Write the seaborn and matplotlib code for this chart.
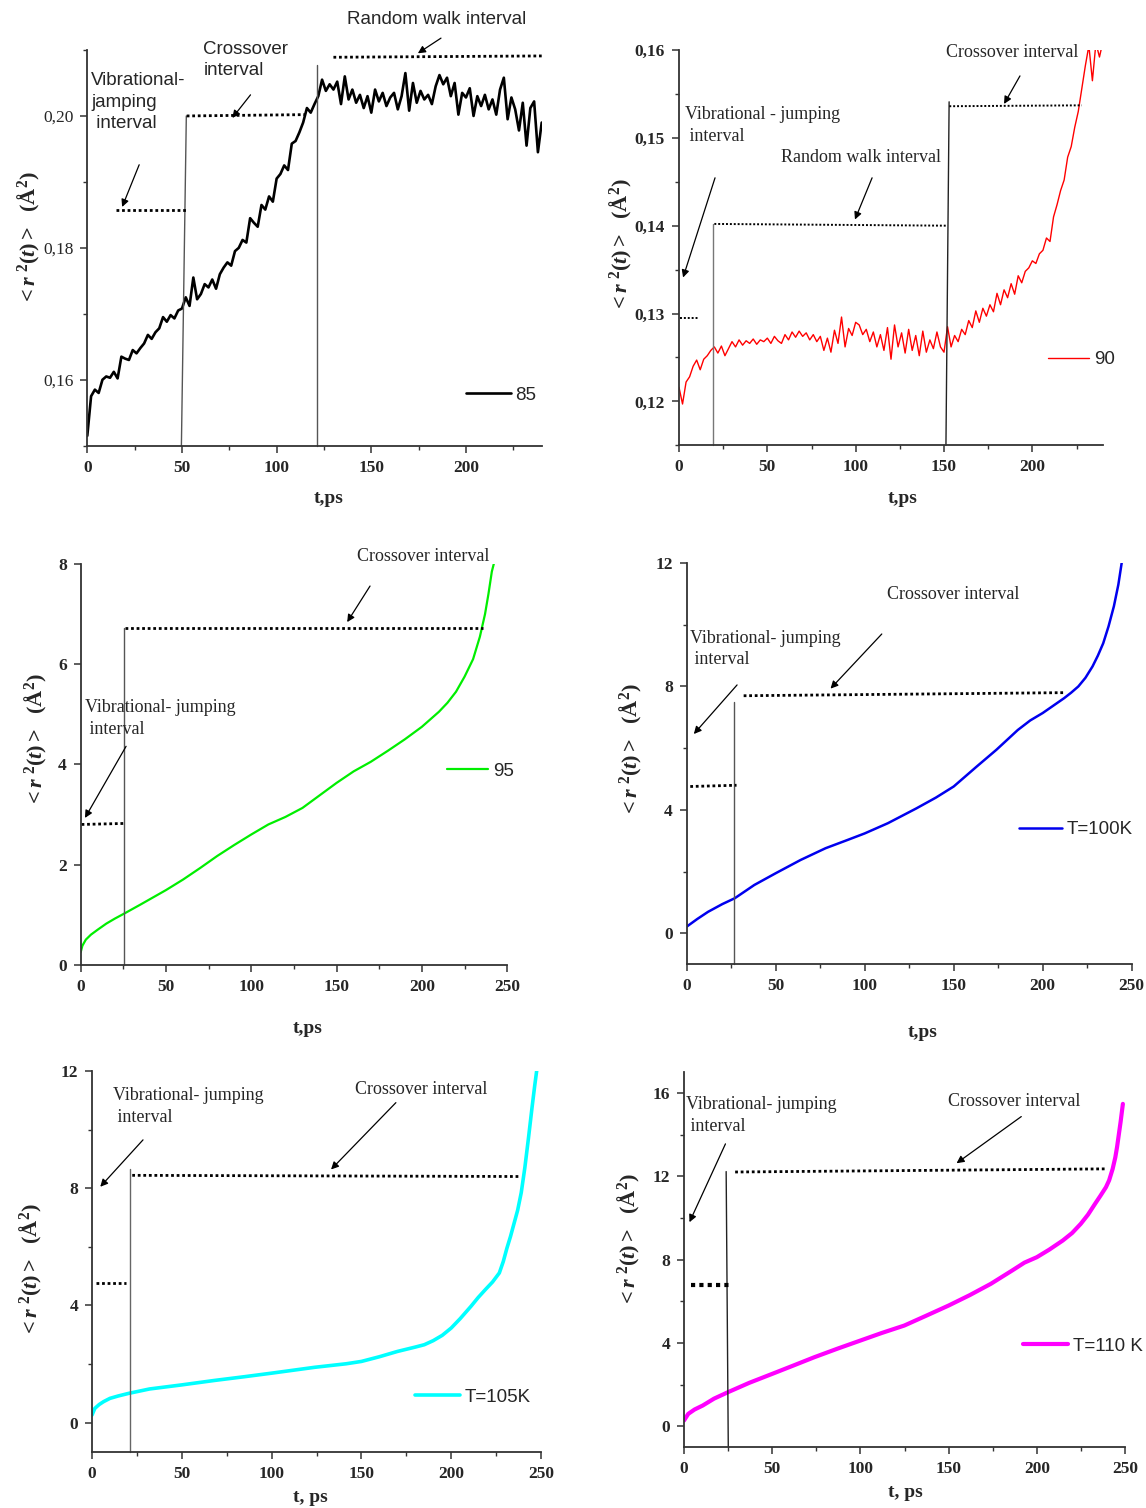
import numpy as np
import matplotlib
matplotlib.use("Agg")
import matplotlib.pyplot as plt
from matplotlib.ticker import FixedLocator, FixedFormatter, MultipleLocator
import seaborn as sns

# --- datos ---
# T = 85 (negro, ruidoso), paso 2 ps
t85 = np.arange(0, 241, 2)
msd85 = [0.1515, 0.1575, 0.1585, 0.1580, 0.1600, 0.1605, 0.1603, 0.1612, 0.1602, 0.1635,
         0.1632, 0.1630, 0.1645, 0.1640, 0.1648, 0.1655, 0.1668, 0.1662, 0.1672, 0.1678,
         0.1695, 0.1688, 0.1698, 0.1693, 0.1705, 0.1708, 0.1725, 0.1712, 0.1755, 0.1722,
         0.1730, 0.1745, 0.1740, 0.1752, 0.1738, 0.1760, 0.1770, 0.1778, 0.1773, 0.1795,
         0.1800, 0.1812, 0.1808, 0.1845, 0.1838, 0.1832, 0.1865, 0.1858, 0.1878, 0.1870,
         0.1905, 0.1912, 0.1925, 0.1918, 0.1958, 0.1962, 0.1975, 0.1990, 0.2012, 0.2005,
         0.2018, 0.2030, 0.2055, 0.2038, 0.2048, 0.2040, 0.2052, 0.2018, 0.2060, 0.2025,
         0.2040, 0.2020, 0.2032, 0.2012, 0.2030, 0.2005, 0.2040, 0.2022, 0.2035, 0.2015,
         0.2028, 0.2035, 0.2010, 0.2030, 0.2065, 0.2008, 0.2050, 0.2020, 0.2038, 0.2025,
         0.2032, 0.2018, 0.2045, 0.2062, 0.2048, 0.2058, 0.2030, 0.2050, 0.2002, 0.2035,
         0.2028, 0.2042, 0.2000, 0.2030, 0.2015, 0.2032, 0.2010, 0.2025, 0.2002, 0.2040,
         0.2058, 0.1995, 0.2028, 0.2010, 0.1978, 0.2020, 0.1955, 0.2012, 0.2022, 0.1945,
         0.1990]

# T = 90 (rojo, ruidoso), paso 2 ps
t90 = np.arange(0, 241, 2)
msd90 = [0.1216, 0.1197, 0.1222, 0.1228, 0.1240, 0.1247, 0.1236, 0.1248, 0.1252, 0.1258,
         0.1262, 0.1255, 0.1263, 0.1252, 0.1260, 0.1268, 0.1262, 0.1270, 0.1264, 0.1269,
         0.1266, 0.1271, 0.1265, 0.1270, 0.1268, 0.1272, 0.1266, 0.1274, 0.1269, 0.1266,
         0.1276, 0.1270, 0.1279, 0.1273, 0.1280, 0.1274, 0.1278, 0.1270, 0.1276, 0.1268,
         0.1274, 0.1258, 0.1272, 0.1256, 0.1281, 0.1266, 0.1296, 0.1262, 0.1283, 0.1275,
         0.1290, 0.1287, 0.1276, 0.1282, 0.1268, 0.1279, 0.1262, 0.1276, 0.1258, 0.1284,
         0.1248, 0.1287, 0.1262, 0.1278, 0.1255, 0.1282, 0.1258, 0.1275, 0.1252, 0.1280,
         0.1256, 0.1270, 0.1260, 0.1279, 0.1262, 0.1256, 0.1285, 0.1262, 0.1275, 0.1268,
         0.1282, 0.1276, 0.1292, 0.1284, 0.1303, 0.1290, 0.1306, 0.1297, 0.1310, 0.1302,
         0.1323, 0.1310, 0.1327, 0.1318, 0.1334, 0.1322, 0.1343, 0.1335, 0.1348, 0.1352,
         0.1360, 0.1357, 0.1368, 0.1372, 0.1386, 0.1382, 0.1410, 0.1424, 0.1440, 0.1452,
         0.1478, 0.1490, 0.1512, 0.1530, 0.1556, 0.1582, 0.1605, 0.1565, 0.1608, 0.1592,
         0.1610]

# T = 95 (verde)
t95 = [0, 1, 3, 6, 10, 15, 20, 26, 35, 50, 60, 70, 80, 90, 100, 110, 120, 130, 140, 150,
       160, 170, 180, 190, 200, 210, 215, 220, 225, 230, 234, 237, 239, 241, 242.5]
msd95 = [0.25, 0.38, 0.50, 0.60, 0.70, 0.82, 0.92, 1.03, 1.20, 1.49, 1.70, 1.93, 2.17, 2.39,
         2.60, 2.80, 2.95, 3.13, 3.38, 3.63, 3.86, 4.05, 4.27, 4.50, 4.75, 5.05, 5.23, 5.45,
         5.75, 6.10, 6.55, 7.00, 7.40, 7.85, 8.05]

# T = 100 K (azul)
t100 = [0, 6, 12, 20, 27, 38, 50, 64, 78, 90, 100, 113, 129, 140, 150, 163, 174, 186, 193,
        200, 212, 216, 220, 224, 228, 231, 234, 237, 240, 242.5, 244.5]
msd100 = [0.22, 0.47, 0.70, 0.95, 1.14, 1.57, 1.95, 2.38, 2.76, 3.02, 3.24, 3.57, 4.05, 4.40,
          4.76, 5.41, 5.95, 6.59, 6.90, 7.14, 7.62, 7.80, 8.00, 8.28, 8.65, 9.00, 9.40, 9.95,
          10.60, 11.30, 12.05]

# T = 105 K (cian)
t105 = [0, 1.6, 4, 6.5, 10, 14.5, 20.4, 32, 50, 68, 85, 100, 124, 141.5, 150, 160, 170, 180,
        185, 190, 195, 200, 205, 211, 215, 219, 223, 226.8, 229, 231, 233, 235, 237, 239,
        241, 243, 245, 246.5, 247.8]
msd105 = [0.26, 0.49, 0.62, 0.72, 0.83, 0.91, 1.00, 1.15, 1.29, 1.44, 1.57, 1.69, 1.89, 2.01,
          2.09, 2.25, 2.43, 2.58, 2.66, 2.80, 2.98, 3.23, 3.55, 3.97, 4.27, 4.54, 4.80, 5.11,
          5.50, 5.95, 6.35, 6.80, 7.25, 7.85, 8.70, 9.70, 10.75, 11.50, 12.10]

# T = 110 K (magenta)
t110 = [0, 2.4, 6, 10.6, 17, 24.9, 37, 50, 62, 73.9, 87, 100, 112, 124.9, 137, 150, 162,
        173.9, 186, 193, 200, 207, 214.7, 220, 224.9, 229, 233, 236, 239.2, 241, 243, 244.5,
        245.5, 246.5, 247.5, 248.8]
msd110 = [0.27, 0.59, 0.80, 0.99, 1.32, 1.63, 2.08, 2.51, 2.91, 3.31, 3.72, 4.11, 4.47, 4.83,
          5.29, 5.79, 6.29, 6.83, 7.47, 7.85, 8.11, 8.47, 8.91, 9.27, 9.71, 10.15, 10.67,
          11.05, 11.47, 11.80, 12.35, 12.90, 13.40, 14.00, 14.60, 15.47]

# ticks
xt_240 = [0, 50, 100, 150, 200]
xt_250 = [0, 50, 100, 150, 200, 250]
yt_85 = [0.16, 0.18, 0.20]
yl_85 = ['0,16', '0,18', '0,20']
yt_90 = [0.12, 0.13, 0.14, 0.15, 0.16]
yl_90 = ['0,12', '0,13', '0,14', '0,15', '0,16']
yt_95 = [0, 2, 4, 6, 8]
yt_100 = [0, 4, 8, 12]
yt_105 = [0, 4, 8, 12]
yt_110 = [0, 4, 8, 12, 16]

# --- estilo ---
sns.set_style("ticks")
plt.rcParams['font.family'] = ['Liberation Serif', 'DejaVu Serif']
plt.rcParams['mathtext.fontset'] = 'custom'
plt.rcParams['mathtext.rm'] = 'Liberation Serif:bold'
plt.rcParams['mathtext.it'] = 'Liberation Serif:italic:bold'
plt.rcParams['mathtext.bf'] = 'Liberation Serif:bold'

W, H = 1146, 1508
fig = plt.figure(figsize=(W / 100, H / 100), dpi=100)


def box(l, r, t, b):
    return [l / W, 1 - b / H, (r - l) / W, (b - t) / H]


YLAB = r'$<\mathit{r}^{\ 2}\mathit{(t)}>\ \ (\mathrm{Å}^{2})$'
SERIF = 'Liberation Serif'
SANS = 'Liberation Sans'


def setup(ax, xlim, ylim, xt, yt, ylabels, yminor, xlab, ylab_xy, xlab_xy, ybold=True):
    ax.set_xlim(*xlim)
    ax.set_ylim(*ylim)
    sns.despine(ax=ax)
    for s in ['left', 'bottom']:
        ax.spines[s].set_color('#333333')
        ax.spines[s].set_linewidth(1.3)
    ax.xaxis.set_major_locator(FixedLocator(xt))
    ax.xaxis.set_minor_locator(MultipleLocator(25))
    ax.yaxis.set_major_locator(FixedLocator(yt))
    if yminor:
        ax.yaxis.set_minor_locator(MultipleLocator(yminor))
    if ylabels is None:
        ylabels = [str(v) for v in yt]
    ax.yaxis.set_major_formatter(FixedFormatter(ylabels))
    ax.tick_params(which='major', direction='out', length=5, width=1.1, color='#333333',
                   labelsize=12.5, pad=5)
    ax.tick_params(which='minor', direction='out', length=3, width=1.0, color='#333333')
    for lb in ax.get_xticklabels():
        lb.set_fontweight('bold')
    for lb in ax.get_yticklabels():
        lb.set_fontweight('bold' if ybold else 'normal')
    ax.set_xlabel(xlab, fontsize=14, fontweight='bold')
    ax.set_ylabel(YLAB, fontsize=16)
    ax.yaxis.set_label_coords(*ylab_xy)
    ax.xaxis.set_label_coords(*xlab_xy)


def dotted(ax, xs, ys, lw=2.0):
    ax.plot(xs, ys, color='black', lw=lw, linestyle=(0, (1, 1)), clip_on=False)


def vline(ax, xs, ys, c='#555555'):
    ax.plot(xs, ys, color=c, lw=1.0, clip_on=False)


def arrow(ax, start, end):
    ax.annotate('', xy=end, xytext=start, annotation_clip=False,
                arrowprops=dict(arrowstyle='-|>', color='black', lw=0.9, mutation_scale=11,
                                shrinkA=0, shrinkB=0))


def label(ax, x, y, s, family=SERIF, size=13):
    ax.text(x, y, s, ha='left', va='center', fontsize=size, family=family,
            linespacing=1.35, clip_on=False)


def legend(ax, x, y, hl):
    ax.legend(loc='center left', bbox_to_anchor=(x, y), frameon=False, handlelength=hl,
              handletextpad=0.25, borderpad=0, borderaxespad=0,
              prop={'family': SANS, 'size': 13.5})


# --- Panel 1: T = 85 ---
ax1 = fig.add_axes(box(87.3, 541.7, 50, 445.7))
sns.lineplot(x=t85, y=msd85, ax=ax1, color='black', linewidth=1.9, label='85',
             sort=False, estimator=None)
setup(ax1, (0, 240), (0.15, 0.21), xt_240, yt_85, yl_85, 0.01, 't,ps',
      (-0.100, 0.525), (0.532, -0.112), ybold=False)
vline(ax1, [49.7, 52.3], [0.15, 0.200])
dotted(ax1, [52.5, 115], [0.200, 0.2002])
dotted(ax1, [15, 52], [0.1858, 0.1858])
vline(ax1, [121.1, 121.1], [0.15, 0.2077])
dotted(ax1, [130, 240], [0.2089, 0.2091])
arrow(ax1, (186.8, 0.2118), (174.6, 0.2095))
arrow(ax1, (86.2, 0.2032), (76.6, 0.1997))
arrow(ax1, (27.4, 0.1926), (18.4, 0.1862))
label(ax1, 137.2, 0.2147, 'Random walk interval', SANS, 13.5)
label(ax1, 61.3, 0.2085, 'Crossover\ninterval', SANS, 13.5)
label(ax1, 2.0, 0.2021, 'Vibrational-\njamping\n interval', SANS, 13.5)
legend(ax1, 0.833, 0.128, 2.4)

# --- Panel 2: T = 90 ---
ax2 = fig.add_axes(box(679, 1103, 50, 445.3))
sns.lineplot(x=t90, y=msd90, ax=ax2, color='red', linewidth=1.0, label='90',
             sort=False, estimator=None)
setup(ax2, (0, 240), (0.115, 0.16), xt_240, yt_90, yl_90, 0.005, 't,ps',
      (-0.106, 0.507), (0.528, -0.113))
vline(ax2, [19.5, 19.5], [0.115, 0.1402], c='#777777')
dotted(ax2, [20, 152], [0.1402, 0.1400], lw=1.4)
vline(ax2, [151.1, 152.9], [0.115, 0.1541], c='#222222')
dotted(ax2, [153, 228], [0.1536, 0.1537], lw=1.4)
dotted(ax2, [0.5, 11.3], [0.1295, 0.1295], lw=1.4)
arrow(ax2, (20.4, 0.14545), (2.3, 0.1341))
arrow(ax2, (109.3, 0.14545), (99.6, 0.1407))
arrow(ax2, (193, 0.15705), (184, 0.15386))
label(ax2, 3.4, 0.1514, 'Vibrational - jumping\n interval')
label(ax2, 57.7, 0.1478, 'Random walk interval')
label(ax2, 151.1, 0.1597, 'Crossover interval')
legend(ax2, 0.870, 0.216, 2.2)

# --- Panel 3: T = 95 ---
ax3 = fig.add_axes(box(80.7, 507.2, 564, 964.7))
sns.lineplot(x=t95, y=msd95, ax=ax3, color='#00ee00', linewidth=1.6, label='95',
             sort=False, estimator=None)
setup(ax3, (0, 250), (0, 8), xt_250, yt_95, None, None, 't,ps',
      (-0.074, 0.561), (0.533, -0.138))
vline(ax3, [25.6, 25.6], [0, 6.72])
dotted(ax3, [26, 236], [6.72, 6.72])
dotted(ax3, [0.5, 25.5], [2.80, 2.82])
arrow(ax3, (26.6, 4.36), (2.5, 2.93))
arrow(ax3, (169.6, 7.56), (156.2, 6.84))
label(ax3, 2.6, 4.92, 'Vibrational- jumping\n interval')
label(ax3, 161.9, 8.14, 'Crossover interval')
legend(ax3, 0.859, 0.483, 2.2)

# --- Panel 4: T = 100 K ---
ax4 = fig.add_axes(box(686.7, 1131.7, 563, 964.3))
sns.lineplot(x=t100, y=msd100, ax=ax4, color='#0000ee', linewidth=1.8, label='T=100K',
             sort=False, estimator=None)
setup(ax4, (0, 250), (-1, 12), xt_250, yt_100, None, 2, 't,ps',
      (-0.096, 0.534), (0.531, -0.149))
vline(ax4, [26.7, 26.7], [-1, 7.5])
dotted(ax4, [32, 212], [7.70, 7.80])
dotted(ax4, [2, 28], [4.76, 4.80])
arrow(ax4, (28.3, 8.05), (4.0, 6.46))
arrow(ax4, (109.6, 9.7), (80.8, 7.93))
label(ax4, 2.0, 9.21, 'Vibrational- jumping\n interval')
label(ax4, 112.5, 10.97, 'Crossover interval')
legend(ax4, 0.747, 0.335, 2.3)

# --- Panel 5: T = 105 K ---
ax5 = fig.add_axes(box(92, 541, 1071, 1452))
sns.lineplot(x=t105, y=msd105, ax=ax5, color='cyan', linewidth=2.6, label='T=105K',
             sort=False, estimator=None)
setup(ax5, (0, 250), (-1, 12), xt_250, yt_105, None, 2, 't, ps',
      (-0.107, 0.478), (0.486, -0.097))
vline(ax5, [21.0, 21.0], [-1, 8.65], c='#666666')
dotted(ax5, [22.4, 238], [8.44, 8.40])
dotted(ax5, [2.5, 19], [4.76, 4.76])
arrow(ax5, (28.4, 9.65), (4.6, 8.05))
arrow(ax5, (169.2, 10.92), (133.1, 8.64))
label(ax5, 11.9, 10.78, 'Vibrational- jumping\n interval')
label(ax5, 146.2, 11.37, 'Crossover interval')
legend(ax5, 0.719, 0.144, 2.4)

# --- Panel 6: T = 110 K ---
ax6 = fig.add_axes(box(684, 1125, 1072, 1447))
sns.lineplot(x=t110, y=msd110, ax=ax6, color='magenta', linewidth=3.0, label='T=110 K',
             sort=False, estimator=None)
setup(ax6, (0, 250), (-1, 17), xt_250, yt_110, None, 2, 't, ps',
      (-0.095, 0.552), (0.503, -0.099))
vline(ax6, [23.9, 25.1], [12.22, -1], c='#222222')
dotted(ax6, [29, 238.5], [12.2, 12.35])
dotted(ax6, [4, 27], [6.8, 6.8], lw=3.0)
arrow(ax6, (23.5, 13.55), (3.1, 9.79))
arrow(ax6, (191.2, 14.86), (154.5, 12.62))
label(ax6, 1.4, 14.91, 'Vibrational- jumping\n interval')
label(ax6, 149.8, 15.6, 'Crossover interval')
legend(ax6, 0.769, 0.269, 2.4)

fig.savefig('out.png', dpi=100)
